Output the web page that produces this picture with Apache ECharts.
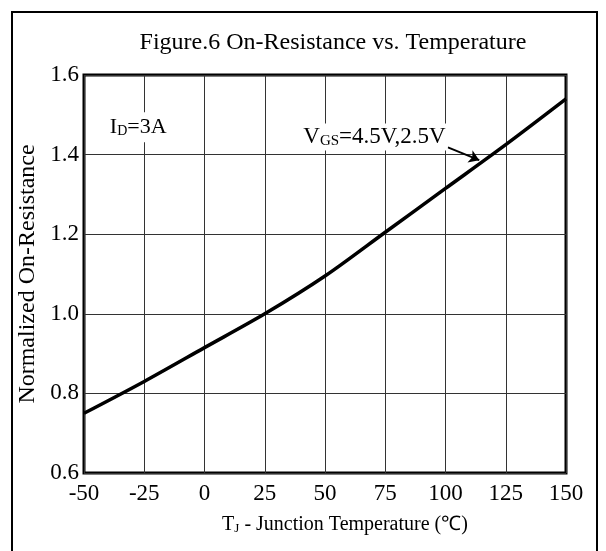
<!DOCTYPE html>
<html>
<head>
<meta charset="utf-8">
<script src="https://cdn.jsdelivr.net/npm/echarts@6/dist/echarts.min.js"></script>
<style>html,body{margin:0;padding:0;background:#fff}#c{width:606px;height:551px}</style>
</head>
<body>
<div id="c"></div>
<script>
const temps = [-50, -25, 0, 25, 50, 75, 100, 125, 150];
const rdsNorm = [0.75, 0.83, 0.915, 1.0, 1.095, 1.205, 1.315, 1.425, 1.54];
const xTicks = [-50, -25, 0, 25, 50, 75, 100, 125, 150];
const yTicks = [0.6, 0.8, 1.0, 1.2, 1.4, 1.6];
const arrowFrom = [101, 1.418];
const arrowTo = [114, 1.386];
const vgsLabelPos = [70.5, 1.444];
const idLabelPos = [-27.5, 1.469];

const FONT = '"Liberation Serif", "Times New Roman", serif';
const chart = echarts.init(document.getElementById('c'), null, {renderer: 'canvas'});
chart.setOption({
  animation: false,
  backgroundColor: '#fff',
  grid: {left: 84, right: 40, top: 75, bottom: 78, show: true, borderColor: '#000', borderWidth: 3, backgroundColor: 'transparent'},
  xAxis: {
    type: 'value', min: xTicks[0], max: xTicks[xTicks.length - 1], interval: 25,
    axisLine: {show: false}, axisTick: {show: false},
    splitLine: {show: true, lineStyle: {color: '#333', width: 1}},
    axisLabel: {fontFamily: FONT, fontSize: 23, color: '#000', margin: 9},
    name: 'T{sub|J} - Junction Temperature (℃)', nameLocation: 'middle', nameGap: 42,
    nameTextStyle: {fontFamily: FONT, fontSize: 20, color: '#000', padding: [0, 0, 0, 40],
      rich: {sub: {fontFamily: FONT, fontSize: 13, color: '#000', verticalAlign: 'bottom', padding: [7, 0, 0, 0]}}}
  },
  yAxis: {
    type: 'value', min: yTicks[0], max: yTicks[yTicks.length - 1], interval: 0.2,
    axisLine: {show: false}, axisTick: {show: false},
    splitLine: {show: true, lineStyle: {color: '#333', width: 1}},
    axisLabel: {fontFamily: FONT, fontSize: 23, color: '#000', margin: 5, formatter: v => v.toFixed(1)},
    name: 'Normalized On-Resistance', nameLocation: 'middle', nameGap: 32, nameRotate: 90,
    nameTextStyle: {fontFamily: FONT, fontSize: 24, color: '#000'}
  },
  graphic: [
    {type: 'rect', shape: {x: 12, y: 12, width: 585, height: 600}, style: {fill: 'none', stroke: '#000', lineWidth: 2}, z: 100},
    {type: 'text', x: 333, y: 43, style: {text: 'Figure.6 On-Resistance vs. Temperature', font: '24px ' + FONT, fill: '#000', textAlign: 'center', textVerticalAlign: 'middle'}}
  ],
  series: [{
    type: 'line', data: temps.map((t, i) => [t, rdsNorm[i]]), smooth: 0.3, symbol: 'none',
    lineStyle: {color: '#000', width: 3.5},
    markLine: {
      silent: true, symbol: ['none', 'arrow'], symbolSize: 10,
      lineStyle: {color: '#000', width: 2, type: 'solid', curveness: 0}, label: {show: false},
      data: [[{coord: arrowFrom}, {coord: arrowTo}]]
    },
    markPoint: {
      silent: true, symbol: 'rect', symbolSize: 1, itemStyle: {color: 'transparent'},
      data: [
        {coord: vgsLabelPos, label: {show: true, formatter: 'V{sub|GS}=4.5V,2.5V', position: 'inside', fontFamily: FONT, fontSize: 23, color: '#000', backgroundColor: '#fff', padding: [2, 2],
          rich: {sub: {fontFamily: FONT, fontSize: 15, color: '#000', verticalAlign: 'bottom', padding: [8, 0, 0, 0]}}}},
        {coord: idLabelPos, label: {show: true, formatter: 'I{sub|D}=3A', position: 'inside', fontFamily: FONT, fontSize: 22, color: '#000', backgroundColor: '#fff', padding: [4, 2],
          rich: {sub: {fontFamily: FONT, fontSize: 14, color: '#000', verticalAlign: 'bottom', padding: [8, 0, 0, 0]}}}}
      ]
    }
  }]
});
</script>
</body>
</html>
